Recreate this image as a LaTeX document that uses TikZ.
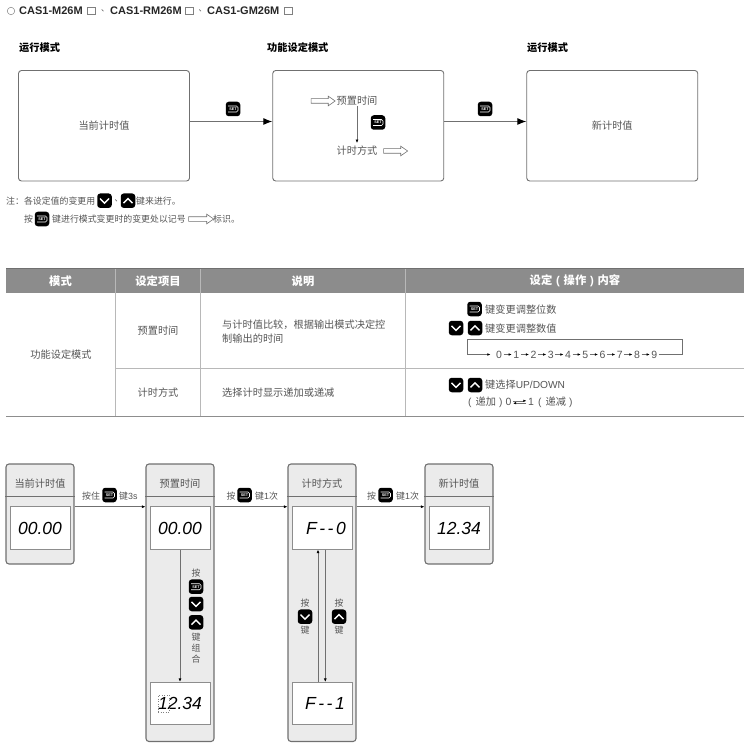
\documentclass[tikz,border=0pt]{standalone}
\usepackage{fontspec}
\setmainfont{Liberation Sans}
\newfontfamily\cjk{Noto Sans CJK SC}
\usetikzlibrary{arrows.meta,shapes.arrows}
\definecolor{inkgray}{HTML}{555555}
\definecolor{linegray}{HTML}{707070}
\definecolor{rulegray}{HTML}{B8B8B8}
\definecolor{panelgray}{HTML}{EBEBEB}
\definecolor{headgray}{HTML}{8C8C8C}
\tikzset{
    txt/.style={font=\cjk\fontsize{10.2}{12}\selectfont,text=inkgray,inner sep=0pt},
    note/.style={font=\cjk\fontsize{8.9}{11}\selectfont,text=inkgray,inner sep=0pt,anchor=west},
    modelabel/.style={font=\cjk\bfseries\fontsize{10.2}{12}\selectfont,text=black,inner sep=0pt,anchor=west},
    model/.style={font=\bfseries\fontsize{11}{12}\selectfont,text=black!85,inner sep=0pt,anchor=west},
    pause/.style={font=\cjk\fontsize{8}{10}\selectfont,text=inkgray,inner sep=0pt,anchor=west},
    thead/.style={font=\cjk\bfseries\fontsize{11.3}{12}\selectfont,text=white,inner sep=0pt},
    modebox/.style={draw=linegray,line width=0.9pt,rounded corners=3pt,minimum width=171pt,minimum height=110.5pt,inner sep=0pt},
    panelbox/.style={draw=linegray,line width=1.1pt,fill=panelgray,rounded corners=3pt,minimum width=68pt,inner sep=0pt},
    lcd/.style={draw=linegray!80,line width=0.7pt,fill=white,minimum width=60pt,minimum height=42.5pt,inner sep=0pt,
        font=\itshape\fontsize{17.5}{18}\selectfont,text=black},
    hollow/.style={shape=single arrow,draw=linegray,line width=0.6pt,inner xsep=0pt,inner ysep=2pt,minimum height=24pt,
        single arrow head extend=2.5pt,single arrow tip angle=70},
    blackkey/.style={fill=black,rounded corners=3pt,minimum size=14.5pt,inner sep=0pt},
    setkey/.style={blackkey,text=white,font=\bfseries\fontsize{3.8}{4}\selectfont,
        path picture={\draw[white,line width=0.6pt,rounded corners=1.5pt]
            ([shift={(-5,-3)}]path picture bounding box.center) -- ([shift={(5,-3)}]path picture bounding box.center)
            -- ([shift={(5,3)}]path picture bounding box.center) -- ([shift={(-5,3)}]path picture bounding box.center);}},
    downkey/.style={blackkey,path picture={\draw[white,line width=1.4pt,sharp corners]
            ([shift={(-4.5,-2.2)}]path picture bounding box.center) -- ([shift={(0,2.4)}]path picture bounding box.center)
            -- ([shift={(4.5,-2.2)}]path picture bounding box.center);}},
    upkey/.style={blackkey,path picture={\draw[white,line width=1.4pt,sharp corners]
            ([shift={(-4.5,2.4)}]path picture bounding box.center) -- ([shift={(0,-2.2)}]path picture bounding box.center)
            -- ([shift={(4.5,2.4)}]path picture bounding box.center);}},
    tickbox/.style={draw=gray,line width=0.5pt,minimum size=7.5pt,inner sep=0pt}
}
\begin{document}
\begin{tikzpicture}[
            x=1pt,y=-1pt,
            flow/.style={draw=linegray,line width=0.9pt,-{Latex[length=9pt,width=7pt,color=black]}},
            thin flow/.style={draw=linegray,line width=0.7pt,-{Latex[length=3.5pt,width=3pt,color=black]}},
            tiny flow/.style={draw=linegray,line width=0.5pt,-{Latex[length=3pt,width=2.5pt,color=black]}}
            ]
            \useasboundingbox (0,0) rectangle (750,751);
            \node[circle,draw=gray,line width=0.5pt,minimum size=7.5pt,inner sep=0pt] (bullet) at (11,11) {};
            \node[model] (m1) at (19,11) {CAS1-M26M};
            \node[tickbox] (s1) at (91,11) {};
            \node[pause] (c1) at (101,11) {、};
            \node[model] (m2) at (110,11) {CAS1-RM26M};
            \node[tickbox] (s2) at (189,11) {};
            \node[pause] (c2) at (198.5,11) {、};
            \node[model] (m3) at (207,11) {CAS1-GM26M};
            \node[tickbox] (s3) at (288,11) {};

            \node[modelabel] (l1) at (19,48) {运行模式};
            \node[modelabel] (l2) at (267,48) {功能设定模式};
            \node[modelabel] (l3) at (527,48) {运行模式};
            \node[modebox,txt] (box1) at (104,125.75) {当前计时值};
            \node[modebox] (box2) at (358.25,125.75) {};
            \node[modebox,txt] (box3) at (612.25,125.75) {新计时值};
            \coordinate (row) at (0,121.5);
            \draw[flow] (box1.east |- row) -- (box2.west |- row);
            \draw[flow] (box2.east |- row) -- (box3.west |- row);
            \node[setkey] (k1) at (233,109) {SET};
            \node[setkey] (k2) at (485,109) {SET};

            \node[hollow] (h1) at (321.5,101) {};
            \node[txt] (preset) at (357,101) {预置时间};
            \node[txt] (count) at (357,151) {计时方式};
            \node[hollow] (h2) at (394,151) {};
            \node[setkey] (k3) at (378,122.5) {SET};
            \draw[thin flow,shorten >=3pt] (preset) -- (count);

            \node[note] (n1) at (6,201) {注：各设定值的变更用};
            \node[downkey] (k4) at (104.5,200.7) {};
            \node[pause] (n2) at (114.5,201) {、};
            \node[upkey] (k5) at (128,200.7) {};
            \node[note] (n3) at (136,201) {键来进行。};
            \node[note] (n4) at (24,219) {按};
            \node[setkey] (k6) at (42,219) {SET};
            \node[note] (n5) at (52,219) {键进行模式变更时的变更处以记号};
            \node[hollow,minimum height=25pt] (h3) at (199.5,219) {};
            \node[note] (n6) at (213,219) {标识。};

            \node[fill=headgray,minimum width=738pt,minimum height=25pt,inner sep=0pt] (head) at (375,280.5) {};
            \draw[rulegray,line width=0.9pt] (115.5,268) -- (115.5,416);
            \draw[rulegray,line width=0.9pt] (200.5,268) -- (200.5,416);
            \draw[rulegray,line width=0.9pt] (405,268) -- (405,416);
            \draw[linegray,line width=0.9pt] (6,268) -- (744,268);
            \draw[rulegray,line width=0.8pt] (115.5,368) -- (744,368);
            \draw[linegray!80,line width=0.9pt] (6,416) -- (744,416);
            \node[thead] (t1) at (60.5,281) {模式};
            \node[thead] (t2) at (158,281) {设定项目};
            \node[thead] (t3) at (303,281) {说明};
            \node[thead] (t4) at (575,281) {设定\kern3.8pt{\rmfamily(}\kern3.8pt操作\kern3.8pt{\rmfamily)}\kern3.8pt内容};
            \node[txt] (c11) at (61,355) {功能设定模式};
            \node[txt] (c21) at (158,331) {预置时间};
            \node[txt] (c22) at (158,392.5) {计时方式};
            \node[txt,anchor=west] (c31) at (222,325) {与计时值比较，根据输出模式决定控};
            \node[txt,anchor=west] (c32) at (222,339) {制输出的时间};
            \node[txt,anchor=west] (c33) at (222,392.5) {选择计时显示递加或递减};

            \node[setkey] (k7) at (474.5,309) {SET};
            \node[txt,anchor=west] (o1) at (485,310) {键变更调整位数};
            \node[downkey] (k8) at (456,328) {};
            \node[upkey] (k9) at (475,328) {};
            \node[txt,anchor=west] (o2) at (485,329) {键变更调整数值};
            \foreach \d in {0,...,9}
                \node[font=\fontsize{10.5}{12}\selectfont,text=inkgray,inner sep=1.5pt] (d\d) at (499+17.25*\d,354.5) {\d};
            \foreach \i [count=\j from 1] in {0,...,8}
                \draw[tiny flow] (d\i) -- (d\j);
            \coordinate (tl) at (467.5,339.5);
            \coordinate (br) at (682.5,354.5);
            \draw[tiny flow,shorten >=4pt] (d9) -- (br) -- (br |- tl) -- (tl) -- (tl |- br) -- (d0);
            \node[downkey] (k10) at (456,385) {};
            \node[upkey] (k11) at (475,385) {};
            \node[txt,anchor=west] (o3) at (485,385) {键选择{\rmfamily UP/DOWN}};
            \node[txt,anchor=west] (o4) at (468,402) {{\rmfamily(}\kern4pt递加\kern3pt{\rmfamily)}};
            \node[font=\fontsize{10.5}{12}\selectfont,text=inkgray,inner sep=1.5pt] (z0) at (508.5,402) {0};
            \node[font=\fontsize{10.5}{12}\selectfont,text=inkgray,inner sep=1.5pt] (z1) at (531,402) {1};
            \node[txt,anchor=west] (o5) at (538,402) {{\rmfamily(}\kern4pt递减\kern3pt{\rmfamily)}};
            \draw[tiny flow] ([yshift=1.2pt]z0.east) -- ([yshift=1.2pt]z1.west);
            \draw[tiny flow] ([yshift=-1.2pt]z1.west) -- ([yshift=-1.2pt]z0.east);

            \node[panelbox,minimum height=100pt] (p1) at (40,514) {};
            \node[panelbox,minimum height=277.5pt] (p2) at (180,602.75) {};
            \node[panelbox,minimum height=277.5pt] (p3) at (322,602.75) {};
            \node[panelbox,minimum height=100pt] (p4) at (459,514) {};
            \coordinate (rule) at (0,496.7);
            \foreach \p in {p1,p2,p3,p4}
                \draw[linegray,line width=1pt] (\p.west |- rule) -- (\p.east |- rule);
            \node[txt] (pt1) at (40,484) {当前计时值};
            \node[txt] (pt2) at (180,484) {预置时间};
            \node[txt] (pt3) at (322,484) {计时方式};
            \node[txt] (pt4) at (459,484) {新计时值};
            \node[lcd] (v1) at (40,528) {00.00};
            \node[lcd] (v2) at (180,528) {00.00};
            \node[lcd] (v3) at (322,528) {\hspace*{8pt}F\kern2.5pt-\kern2.5pt-\kern2.5pt0};
            \node[lcd] (v4) at (459,528) {12.34};
            \node[lcd] (v5) at (180,703.5) {12.34};
            \node[lcd] (v6) at (322,703.5) {\hspace*{6pt}F\kern2.5pt-\kern2.5pt-\kern2.5pt1};
            \node[draw=gray,dotted,line width=0.5pt,minimum width=11pt,minimum height=17pt,inner sep=0pt] (blink) at (163.5,703.5) {};

            \coordinate (lane) at (0,506.7);
            \draw[thin flow] (p1.east |- lane) -- (p2.west |- lane);
            \draw[thin flow] (p2.east |- lane) -- (p3.west |- lane);
            \draw[thin flow] (p3.east |- lane) -- (p4.west |- lane);
            \node[note,anchor=center] (a1) at (91,496) {按住};
            \node[setkey] (k12) at (109.5,495) {SET};
            \node[note,anchor=west] (a2) at (119,496) {键{\rmfamily 3s}};
            \node[note,anchor=center] (a3) at (231,496) {按};
            \node[setkey] (k13) at (244.5,495) {SET};
            \node[note,anchor=west] (a4) at (255,496) {键{\rmfamily 1}次};
            \node[note,anchor=center] (a5) at (371.5,496) {按};
            \node[setkey] (k14) at (385.5,495) {SET};
            \node[note,anchor=west] (a6) at (396,496) {键{\rmfamily 1}次};

            \draw[thin flow] (v2.south) -- (v5.north);
            \node[note,anchor=center] (b1) at (196,572.7) {按};
            \node[setkey] (k15) at (196,586.7) {SET};
            \node[downkey] (k16) at (196,604) {};
            \node[upkey] (k17) at (196,622.3) {};
            \node[note,anchor=center] (b2) at (196,637.3) {键};
            \node[note,anchor=center] (b3) at (196,648) {组};
            \node[note,anchor=center] (b4) at (196,658.7) {合};

            \coordinate (uplane) at (318,0);
            \coordinate (downlane) at (325.3,0);
            \draw[thin flow] (v6.north -| uplane) -- (v3.south -| uplane);
            \draw[thin flow] (v3.south -| downlane) -- (v6.north -| downlane);
            \node[note,anchor=center] (e1) at (305,602.7) {按};
            \node[downkey] (k18) at (305,616.7) {};
            \node[note,anchor=center] (e2) at (305,630) {键};
            \node[note,anchor=center] (e3) at (339,602.7) {按};
            \node[upkey] (k19) at (339,616.7) {};
            \node[note,anchor=center] (e4) at (339,630) {键};
        \end{tikzpicture}
\end{document}
